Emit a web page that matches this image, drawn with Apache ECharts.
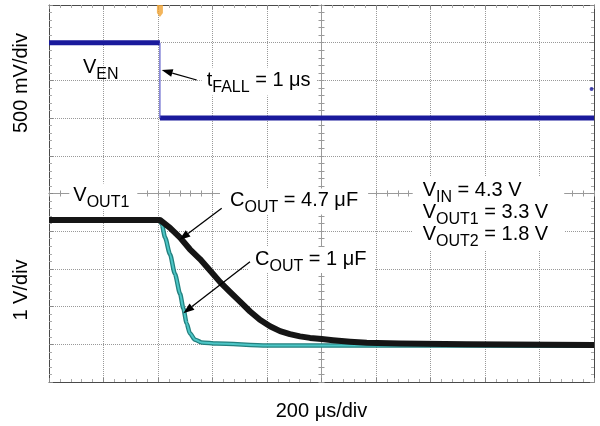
<!DOCTYPE html>
<html>
<head>
<meta charset="utf-8">
<script src="https://cdn.jsdelivr.net/npm/echarts@6/dist/echarts.min.js"></script>
<style>
  html, body { margin: 0; padding: 0; background: #fff; }
  #chart { width: 600px; height: 426px; background: #fff; }
</style>
</head>
<body>
<div id="chart"></div>
<script>
// Time base: µs from the left edge of the screen, 200 µs/div, 10 divisions.
const timeMin = 0;
const timeMax = 2000;
const timeStep = 200;

// Enable channel (500 mV/div): step from high to low at the edge.
const enTime  = [0, 407, 407, 2000];
const enVolts = [1.0, 1.0, 0.0, 0.0];
// Single stray sample on the enable channel.
const enGlitchTime  = [1991];
const enGlitchVolts = [0.385];
// Trigger position marker.
const triggerTime = [407];

// VOUT1 discharge (1 V/div), COUT = 4.7 µF.
const out47Time  = [0, 407, 444, 481, 517, 554, 591, 628, 664, 701, 738, 774, 811, 848, 884, 921, 958, 1001, 1042, 1105, 1166, 1288, 1533, 2000];
const out47Volts = [3.3, 3.3, 3.09, 2.83, 2.52, 2.26, 1.96, 1.65, 1.39, 1.13, 0.87, 0.65, 0.48, 0.35, 0.27, 0.21, 0.17, 0.14, 0.11, 0.07, 0.04, 0.02, 0.0, -0.02];

// VOUT1 discharge (1 V/div), COUT = 1 µF.
const out1Time  = [0, 407, 414, 426, 444, 462, 481, 493, 505, 517, 536, 560, 615, 800, 2000];
const out1Volts = [3.3, 3.3, 3.18, 2.83, 2.39, 1.87, 1.34, 0.95, 0.56, 0.29, 0.12, 0.05, 0.02, -0.03, -0.04];

const FONT = '"Liberation Sans", Arial, Helvetica, sans-serif';
const zip = (xs, ys) => xs.map((x, i) => [x, ys[i]]);

// Split the enable trace into flat runs (thick) and transitions (thin).
const enFlat = [];
const enEdges = [];
for (let i = 0; i < enTime.length - 1; i++) {
  const a = [enTime[i], enVolts[i]];
  const b = [enTime[i + 1], enVolts[i + 1]];
  if (enVolts[i] === enVolts[i + 1]) {
    enFlat.push(a, b, [enTime[i + 1], '-']);
  } else {
    enEdges.push(a, b, [enTime[i + 1], '-']);
  }
}

const chart = echarts.init(document.getElementById('chart'), null, { renderer: 'canvas' });

const frameColor = '#4a4a4a';
const centerColor = '#9a9a9a';

// Screen frame: axis line plus small inward ticks.
function frameAxis(extra) {
  return Object.assign({
    type: 'value',
    axisLine: { show: true, onZero: false, lineStyle: { color: frameColor, width: 1 } },
    axisTick: { show: true, inside: true, length: 4, lineStyle: { color: '#888' } },
    minorTick: { show: true, splitNumber: 5, length: 3, lineStyle: { color: '#aaa' } },
    axisLabel: { show: false },
    splitLine: { show: false }
  }, extra);
}
// Centre cross-hair in divisions (-5..5), ticks drawn on one side per axis.
function centerAxis(inside, grid, extra) {
  return Object.assign({
    type: 'value', min: -5, max: 5, interval: 1,
    axisLine: { show: true, onZero: true, onZeroAxisIndex: 2, lineStyle: { color: centerColor, width: 1 } },
    axisTick: { show: true, inside: inside, length: 3, lineStyle: { color: centerColor } },
    minorTick: { show: true, splitNumber: 5, length: 3, lineStyle: { color: centerColor } },
    axisLabel: { show: false },
    splitLine: grid
      ? { show: true, lineStyle: { color: '#808080', type: 'dotted', width: 1, opacity: 0.8 } }
      : { show: false }
  }, extra);
}

// Rich text: main glyphs and lowered subscripts.
const rich = {
  m: { fontSize: 20, lineHeight: 22, verticalAlign: 'top', fontFamily: FONT, color: '#000' },
  s: { fontSize: 16, lineHeight: 18, padding: [9, 0, 0, 0], verticalAlign: 'top', fontFamily: FONT, color: '#000' }
};
function label(x, baseline, text, pad, bg) {
  const p = pad || [0, 0, 0, 0];
  return {
    type: 'text', z: 100,
    x: x - p[3], y: baseline - 17.9 - p[0],
    style: {
      text: text, rich: rich, align: 'left', verticalAlign: 'top',
      padding: p, backgroundColor: bg ? '#fff' : 'transparent'
    }
  };
}
function arrow(x1, y1, x2, y2) {
  const dx = x2 - x1, dy = y2 - y1, L = Math.hypot(dx, dy);
  const ux = dx / L, uy = dy / L, hl = 11, hw = 4;
  const bx = x2 - ux * hl, by = y2 - uy * hl;
  return [
    { type: 'line', z: 101, shape: { x1: x1, y1: y1, x2: bx, y2: by }, style: { stroke: '#000', lineWidth: 1.3 } },
    { type: 'polygon', z: 101, shape: { points: [[x2, y2], [bx - uy * hw, by + ux * hw], [bx + uy * hw, by - ux * hw]] }, style: { fill: '#000' } }
  ];
}
function vName(cx, cy, text) {
  return {
    type: 'text', z: 100, x: cx, y: cy, rotation: Math.PI / 2,
    style: { text: text, font: '20px ' + FONT, fill: '#000', align: 'center', verticalAlign: 'middle' }
  };
}

const option = {
  animation: false,
  grid: { left: 49, top: 5, width: 545, height: 381 },
  xAxis: [
    frameAxis({
      min: timeMin, max: timeMax, interval: timeStep, position: 'bottom',
      name: '200 μs/div', nameLocation: 'middle', nameGap: 19,
      nameTextStyle: { fontSize: 20, fontFamily: FONT, color: '#000' }
    }),
    frameAxis({ min: timeMin, max: timeMax, interval: timeStep, position: 'top' }),
    centerAxis(true, true, { position: 'bottom' }),
    centerAxis(false, false, { position: 'bottom' })
  ],
  yAxis: [
    // enable channel, volts (500 mV/div)
    frameAxis({ min: -3.5, max: 1.5, interval: 0.5, position: 'left' }),
    // output channel, volts (1 V/div)
    { type: 'value', min: -1, max: 9, interval: 1, show: false },
    frameAxis({ min: -5, max: 5, interval: 1, position: 'right' }),
    centerAxis(true, true, { position: 'left' }),
    centerAxis(false, false, { position: 'left' })
  ],
  series: [
    {
      type: 'line', xAxisIndex: 0, yAxisIndex: 0, data: enFlat, showSymbol: false, connectNulls: false,
      lineStyle: { color: '#1a1a9c', width: 5 }, z: 5
    },
    {
      type: 'line', xAxisIndex: 0, yAxisIndex: 0, data: enEdges, showSymbol: false, connectNulls: false,
      lineStyle: { color: '#5656c8', width: 1.2 }, z: 5
    },
    {
      type: 'scatter', xAxisIndex: 0, yAxisIndex: 0, data: zip(enGlitchTime, enGlitchVolts),
      symbol: 'circle', symbolSize: 4, itemStyle: { color: '#1a1a9c' }, z: 5
    },
    {
      type: 'scatter', xAxisIndex: 0, yAxisIndex: 0, data: triggerTime.map(t => [t, 1.42]),
      symbol: 'path://M0,0 L6,0 L6,8 L3,12 L0,8 Z', symbolSize: [6, 12],
      itemStyle: { color: '#f0a232' }, z: 6
    },
    {
      type: 'line', xAxisIndex: 0, yAxisIndex: 1, data: zip(out1Time, out1Volts), showSymbol: false,
      smooth: 0.25, smoothMonotone: 'x',
      lineStyle: { color: '#23807f', width: 4.5 }, z: 6
    },
    {
      type: 'line', xAxisIndex: 0, yAxisIndex: 1, data: zip(out1Time, out1Volts), showSymbol: false,
      smooth: 0.25, smoothMonotone: 'x',
      lineStyle: { color: '#4cc6c6', width: 2 }, z: 7
    },
    {
      type: 'line', xAxisIndex: 0, yAxisIndex: 1, data: zip(out47Time, out47Volts), showSymbol: false,
      smooth: false,
      lineStyle: { color: '#151515', width: 6, join: 'round' }, z: 8
    }
  ],
  graphic: [
    vName(21.7, 83, '500 mV/div'),
    vName(21.7, 290, '1 V/div'),
    label(83, 75, '{m|V}{s|EN}'),
    label(206.7, 88.3, '{m|t}{s|FALL}{m| = 1 μs}', [3, 6, 3, 5], true),
    label(73.3, 203.3, '{m|V}{s|OUT1}', [2, 8, 2, 4], true),
    label(230, 208.3, '{m|C}{s|OUT}{m| = 4.7 μF}', [2, 10, 2, 10], true),
    label(255, 267, '{m|C}{s|OUT}{m| = 1 μF}', [2, 8, 2, 6], true),
    label(422.7, 198.3, '{m|V}{s|IN}{m| = 4.3 V}\n{m|V}{s|OUT1}{m| = 3.3 V}\n{m|V}{s|OUT2}{m| = 1.8 V}', [4, 16, 4, 10], true)
  ].concat(
    arrow(196.7, 80, 161.7, 70),
    arrow(221.7, 208.3, 179.3, 240),
    arrow(250, 261.7, 183.3, 313.3)
  )
};

chart.setOption(option);
</script>
</body>
</html>
